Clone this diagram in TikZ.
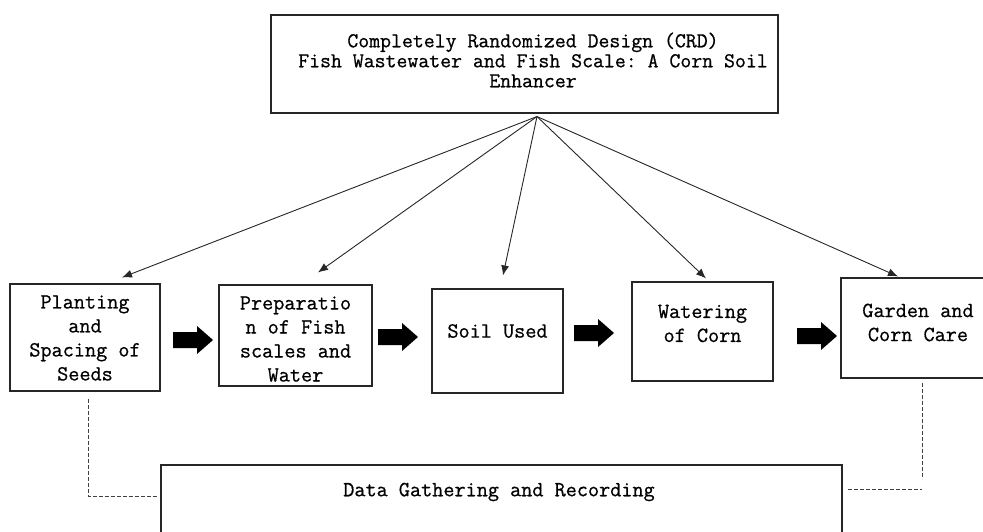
\documentclass[tikz,border=0pt]{standalone}
\usepackage{fontspec}
\setmonofont[FakeBold=0.7]{Latin Modern Mono}
\usetikzlibrary{arrows.meta}
\begin{document}
\begin{tikzpicture}[x=1pt,y=-1pt,
  box/.style={draw=black!85, line width=1.1pt, inner sep=0pt},
  txt/.style={font=\ttfamily\fontsize{21.6}{24}\selectfont, align=center, inner sep=0pt},
  ttl/.style={font=\ttfamily\fontsize{21.2}{20}\selectfont, align=center, inner sep=0pt},
  link/.style={line width=0.9pt, draw=black!85, -{Latex[length=10pt,width=8pt]}},
  dsh/.style={draw=black!75, line width=1pt, dash pattern=on 4pt off 2pt},
  blk/.style={fill=black}]
\useasboundingbox (0,0) rectangle (983,532);
\clip (0,0) rectangle (983,532);

% boxes
\node[box, minimum width=507pt, minimum height=98pt] (top) at (524.5,64) {};
\node[ttl] (topT) at (533,60) {Completely Randomized Design (CRD)\\Fish Wastewater and Fish Scale: A Corn Soil\\Enhancer};

\node[box, minimum width=150pt, minimum height=107pt] (plant) at (85,337.5) {};
\node[txt] (plantT) at (85,338) {Planting\\and\\Spacing of\\Seeds};

\node[box, minimum width=153pt, minimum height=101pt] (prep) at (295.5,335.5) {};
\node[txt] (prepT) at (295.5,339) {Preparatio\\n of Fish\\scales and\\Water};

\node[box, minimum width=131pt, minimum height=104pt] (soil) at (497.5,341) {};
\node[txt] (soilT) at (497.5,331) {Soil Used};

\node[box, minimum width=141pt, minimum height=99pt] (water) at (702.5,331.5) {};
\node[txt] (waterT) at (702.5,323.5) {Watering\\of Corn};

\node[box, minimum width=154pt, minimum height=100pt] (garden) at (918,328) {};
\node[txt] (gardenT) at (918,322.5) {Garden and\\Corn Care};

\node[box, minimum width=681pt, minimum height=100pt] (data) at (501.5,515) {};
\node[txt] (dataT) at (499,492) {Data Gathering and Recording};

% connectors from the title box
\coordinate (src) at ([xshift=12.5pt,yshift=-3pt]top.south);
\draw[link] (src) -- ([xshift=37pt,yshift=6pt]plant.north);
\draw[link] (src) -- ([xshift=22.5pt,yshift=12pt]prep.north);
\draw[link] (src) -- ([xshift=5.5pt,yshift=13pt]soil.north);
\draw[link] (src) -- ([xshift=3.5pt,yshift=3pt]water.north);
\draw[link] (src) -- ([xshift=-20pt,yshift=1pt]garden.north);

% block arrows
\foreach \ax/\ay in {173/340, 378/337, 574/333, 797/336}{
  \fill[blk] (\ax,\ay-8) -- ++(24,0) -- ++(0,-6) -- ++(16,14) -- ++(-16,14)
     -- ++(0,-6) -- ++(-24,0) -- cycle;
}

% dashed links to data box
\coordinate (dl) at (157,496);
\draw[dsh] ([xshift=3pt,yshift=-7pt]plant.south) |- (dl);
\draw[dsh] ([xshift=4pt,yshift=-4pt]garden.south) -- ++(0,96);
\coordinate (dr) at (848,489);
\draw[dsh] (dr) -- ++(74,0);
\end{tikzpicture}
\end{document}
